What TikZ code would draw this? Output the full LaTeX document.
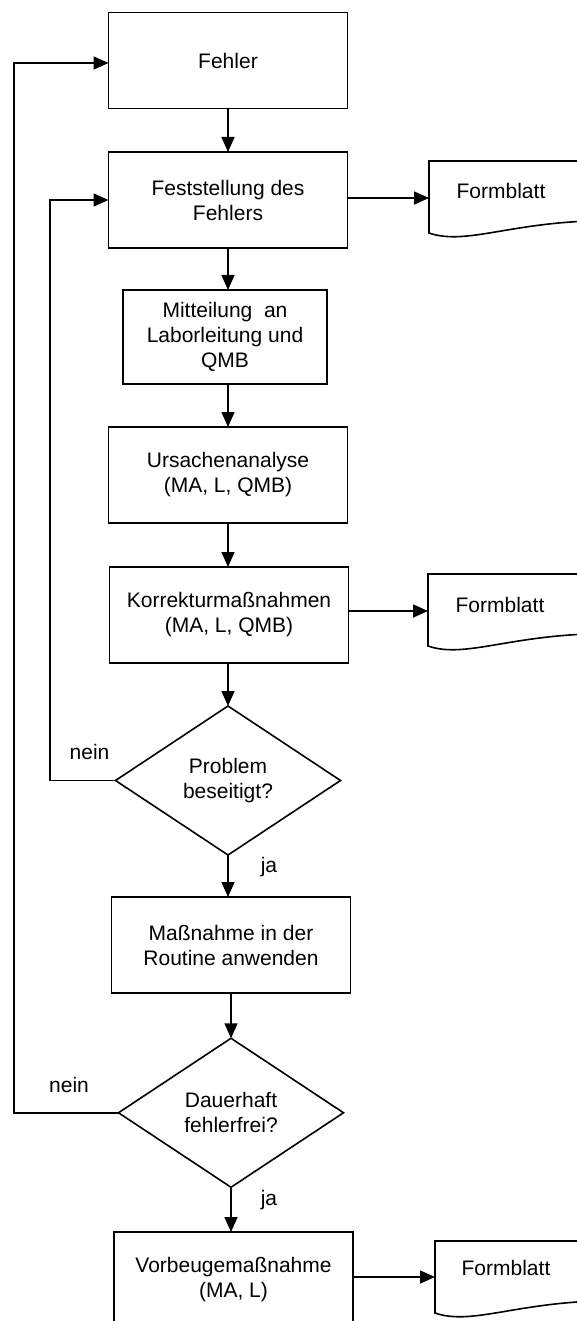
\documentclass[tikz,border=0pt]{standalone}
\usepackage{fontspec}
\setmainfont{Liberation Sans}
\usetikzlibrary{arrows.meta,shapes.geometric,calc}
\begin{document}
\begin{tikzpicture}[x=1pt,y=-1pt,
  line/.style={line width=1.6pt, draw=black},
  txt/.style={font=\fontsize{21}{25}\selectfont},
  box/.style={line, txt, rectangle, align=center, inner sep=0pt, outer sep=0pt,
    minimum width=239pt, minimum height=96pt},
  decision/.style={line, txt, diamond, aspect=1.5, align=center, inner sep=0pt,
    outer sep=0pt, minimum width=225pt, minimum height=149pt},
  docframe/.style={rectangle, draw=none, inner sep=0pt, outer sep=0pt,
    minimum width=200pt, minimum height=72pt, anchor=north west},
  lbl/.style={txt, inner sep=0pt},
  arr/.style={line, -{Triangle[length=15pt,width=13pt]}}
]
% page area
\fill[white] (0,0) rectangle (576,1321);
\useasboundingbox (0,0) rectangle (576,1321);

% process steps
\node[box] (fehler) at (228,60.5) {Fehler};
\node[box] (fest) at (228,200) {Feststellung des\\Fehlers};
\node[box, minimum width=204pt, minimum height=94pt] (mitt) at (225,337)
  {Mitteilung\ \ an\\Laborleitung und\\QMB};
\node[box] (urs) at (228,475) {Ursachenanalyse\\(MA, L, QMB)};
\node[box] (korr) at (229,615) {Korrekturmaßnahmen\\(MA, L, QMB)};
\node[decision] (prob) at (228,780.5) {Problem\\beseitigt?};
\node[box] (mass) at (231,945) {Maßnahme in der\\Routine anwenden};
\node[decision] (dauer) at (231,1112.75) {Dauerhaft\\fehlerfrei?};
\node[box] (vorb) at (233.5,1280) {Vorbeugemaßnahme\\(MA, L)};

% document symbols (wavy lower edge)
\node[docframe] (f1) at (429,161) {};
\node[docframe] (f2) at (428,574) {};
\node[docframe] (f3) at (435,1241) {};
\foreach \d in {f1,f2,f3}
  \draw[line, shift={(\d.south west)}] (0,0) -- (0,-72) -- (200,-72) -- (200,-12)
    .. controls (90,-16) and (40,14) .. cycle;
\node[lbl] (f1t) at (501,191) {Formblatt};
\node[lbl] (f2t) at (500,605) {Formblatt};
\node[lbl] (f3t) at (506,1268) {Formblatt};

% branch labels
\node[lbl] (n1) at (89.5,752) {nein};
\node[lbl] (j1) at (269,867) {ja};
\node[lbl] (n2) at (69,1085) {nein};
\node[lbl] (j2) at (269,1200) {ja};

% main flow
\draw[arr] (fehler.south) -- (fehler.south |- fest.north);
\draw[arr] (fest.south) -- (fest.south |- mitt.north);
\draw[arr] (fest.south |- mitt.south) -- (fest.south |- urs.north);
\draw[arr] (urs.south) -- (urs.south |- korr.north);
\draw[arr] (prob.north |- korr.south) -- (prob.north);
\draw[arr] (prob.south) -- (prob.south |- mass.north);
\draw[arr] (dauer.north |- mass.south) -- (dauer.north);
\draw[arr] (dauer.south) -- (dauer.south |- vorb.north);

% records
\draw[arr] ([yshift=2pt]fest.east) -- ([yshift=2pt]fest.east -| f1.west);
\draw[arr] ([yshift=4pt]korr.east) -- ([yshift=4pt]korr.east -| f2.west);
\draw[arr] ([yshift=3pt]vorb.east) -- ([yshift=3pt]vorb.east -| f3.west);

% feedback loops
\coordinate (inner) at (50,0);
\coordinate (outer) at (14,0);
\draw[arr] (prob.west) -- (prob.west -| inner) -- (fest.west -| inner) -- (fest.west);
\draw[arr] (dauer.west) -- (dauer.west -| outer)
  -- ([yshift=-2.5pt]fehler.west -| outer) -- ([yshift=-2.5pt]fehler.west);
\end{tikzpicture}
\end{document}
